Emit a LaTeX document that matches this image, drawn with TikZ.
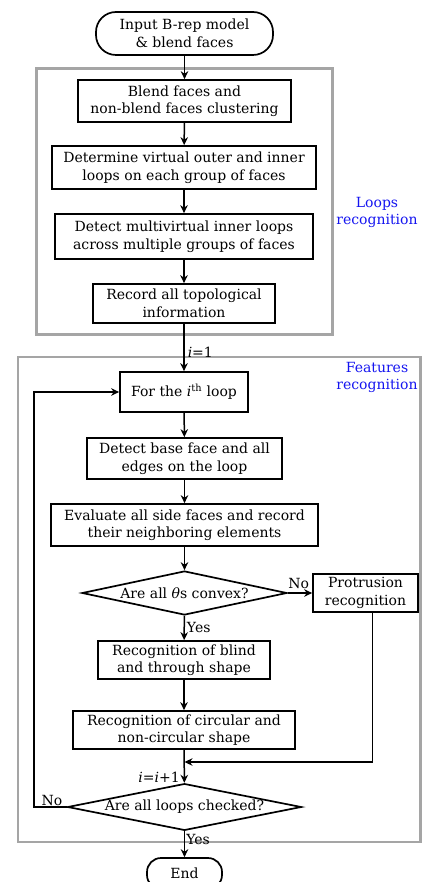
\documentclass[tikz,border=0pt]{standalone}
\usepackage{fontspec}
\setmainfont{DejaVu Serif}
\usetikzlibrary{arrows.meta,shapes.geometric,calc}
\definecolor{grpgray}{RGB}{165,165,165}
\definecolor{lblblue}{RGB}{20,20,240}
\begin{document}
\begin{tikzpicture}[x=1pt,y=-1pt,
  every node/.style={font=\fontsize{14}{17.5}\selectfont},
  box/.style={draw=black,line width=1.7pt,rectangle,align=center,inner sep=0pt},
  term/.style={draw=black,line width=1.7pt,rectangle,rounded corners=20pt,align=center,inner sep=0pt},
  dec/.style={draw=black,line width=1.7pt,diamond,aspect=4.8,inner sep=0pt,align=center},
  grp/.style={draw=grpgray,line width=2.6pt},
  conn/.style={line width=1.5pt,-{Stealth[length=8pt,width=7.5pt]}},
  grplabel/.style={text=lblblue,align=center,inner sep=0pt},
  lbl/.style={inner sep=0pt}
]
\useasboundingbox (0,0) rectangle (423,882);
% groups
\draw[grp] (36.5,68.5) rectangle (332.5,334.5);
\draw[grp] (18,357) rectangle (420.5,842);
\node[grplabel] (lr) at (377,212.5) {Loops\\recognition};
\node[grplabel] (fr) at (377,377.5) {Features\\recognition};
% nodes
\node[term,minimum width=177pt,minimum height=43pt] (start) at (184.5,33.5) {Input B-rep model\\\& blend faces};
\node[box,minimum width=213pt,minimum height=42pt] (b1) at (184.5,101) {Blend faces and\\non-blend faces clustering};
\node[box,minimum width=264pt,minimum height=43pt] (b2) at (184,167.5) {Determine virtual outer and inner\\loops on each group of faces};
\node[box,minimum width=258pt,minimum height=45pt] (b3) at (184,236.5) {Detect multivirtual inner loops\\across multiple groups of faces};
\node[box,minimum width=182pt,minimum height=39pt] (b4) at (184,303.5) {Record all topological\\information};
\node[box,minimum width=128pt,minimum height=40pt] (f1) at (184,392) {For the \textit{i}\textsuperscript{th} loop};
\node[box,minimum width=195pt,minimum height=41pt] (f2) at (184.5,458.5) {Detect base face and all\\edges on the loop};
\node[box,minimum width=267pt,minimum height=42pt] (f3) at (184.5,525) {Evaluate all side faces and record\\their neighboring elements};
\node[dec,minimum width=205pt,minimum height=44pt] (d1) at (184.5,593) {Are all \textit{θ}s convex?};
\node[box,minimum width=105pt,minimum height=38pt] (prot) at (365.5,593) {Protrusion\\recognition};
\node[box,minimum width=172pt,minimum height=38pt] (f4) at (184,660) {Recognition of blind\\and through shape};
\node[box,minimum width=222pt,minimum height=38pt] (f5) at (184,730) {Recognition of circular and\\non-circular shape};
\coordinate (m) at (184.5,762);
\node[dec,minimum width=234pt,minimum height=46pt] (d2) at (184.5,807) {Are all loops checked?};
\node[term,rounded corners=14pt,minimum width=75pt,minimum height=31pt] (end) at (184.5,873.5) {End};
\coordinate (back) at (34,807);
% connectors
\draw[conn] (start) -- (b1);
\draw[conn] (b1) -- (b2);
\draw[conn] (b2) -- (b3);
\draw[conn] (b3) -- (b4);
\draw[conn] (b4) -- node[lbl,right,xshift=3pt,pos=0.6] (i1) {\textit{i}=1} (f1);
\draw[conn] (f1) -- (f2);
\draw[conn] (f2) -- (f3);
\draw[conn] (f3) -- (d1);
\draw[conn] (d1) -- node[lbl,above,pos=0.45,yshift=4pt] (no1) {No} (prot);
\draw[conn] (d1) -- node[lbl,right,xshift=2pt,pos=0.5] (yes1) {Yes} (f4);
\draw[conn] (f4) -- (f5);
\draw[conn] ([xshift=6.8pt]prot.south) |- (m);
\draw[conn] (f5) -- (d2);
\node[lbl,anchor=east] (ii) at (180,777) {\textit{i}=\textit{i}+1};
\draw[conn] (d2.west) -- node[lbl,above,pos=0.45,yshift=1pt] (no2) {No} (back) |- (f1.west);
\draw[conn] (d2) -- node[lbl,right,xshift=1pt,pos=0.3] (yes2) {Yes} (end);
\end{tikzpicture}
\end{document}
